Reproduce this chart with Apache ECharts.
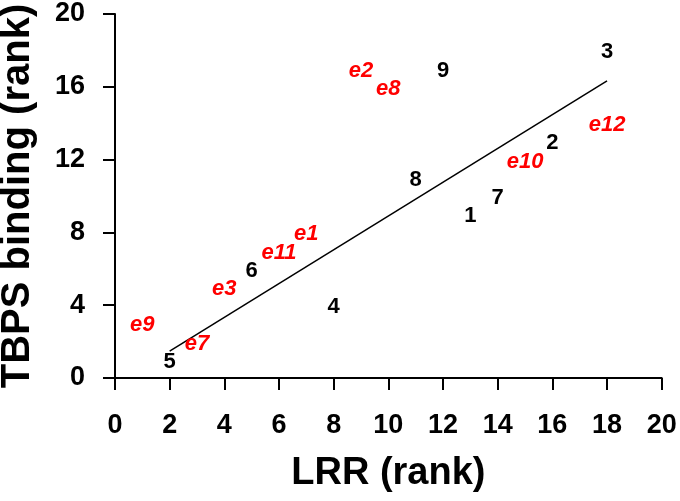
<!DOCTYPE html>
<html>
<head>
<meta charset="utf-8">
<script src="https://cdn.jsdelivr.net/npm/echarts@6/dist/echarts.min.js"></script>
<style>html,body{margin:0;padding:0;background:#fff}#c{width:680px;height:501px}</style>
</head>
<body>
<div id="c"></div>
<script>
var blackNames = ['1','2','3','4','5','6','7','8','9'];
var blackX = [13,16,18,8,2,5,14,11,12];
var blackY = [9,13,18,4,1,6,10,11,17];
var redNames = ['e1','e2','e3','e7','e8','e9','e10','e11','e12'];
var redX = [7,9,4,3,10,1,15,6,18];
var redY = [8,17,5,2,16,3,12,7,14];
var fitX = [2,18];
var fitY = [1.48,16.33];
var xTicks = [0,2,4,6,8,10,12,14,16,18,20];
var yTicks = [0,4,8,12,16,20];

function pts(n, xs, ys){ return n.map(function(v,i){ return {name:v, value:[xs[i], ys[i]]}; }); }

var FONT = '"Liberation Sans", Arial, sans-serif';
var chart = echarts.init(document.getElementById('c'));
chart.setOption({
  animation:false,
  grid:{left:115, right:18.3, top:14, bottom:123, containLabel:false, outerBoundsMode:'none'},
  xAxis:{
    type:'value', min:0, max:20, interval:2,
    name:'LRR (rank)', nameLocation:'middle', nameGap:77,
    nameTextStyle:{fontFamily:FONT, fontWeight:'bold', fontSize:38, color:'#000'},
    axisLine:{lineStyle:{color:'#000', width:2}},
    axisTick:{show:true, inside:false, length:12, lineStyle:{color:'#000', width:2}},
    axisLabel:{fontFamily:FONT, fontWeight:'bold', fontSize:27, color:'#000', margin:34,
      formatter:function(v){ return xTicks.indexOf(v)>=0 ? String(v) : ''; }},
    splitLine:{show:false}
  },
  yAxis:{
    type:'value', min:0, max:20, interval:4,
    name:'TBPS binding (rank)', nameLocation:'middle', nameGap:77,
    nameTextStyle:{fontFamily:FONT, fontWeight:'bold', fontSize:40, color:'#000'},
    axisLine:{show:true, lineStyle:{color:'#000', width:2}},
    axisTick:{show:true, inside:false, length:12, lineStyle:{color:'#000', width:2}},
    axisLabel:{fontFamily:FONT, fontWeight:'bold', fontSize:27, color:'#000', margin:30,
      formatter:function(v){ return yTicks.indexOf(v)>=0 ? String(v) : ''; }},
    splitLine:{show:false}
  },
  series:[
    {type:'line', data:fitX.map(function(x,i){return [x, fitY[i]];}), showSymbol:false, symbol:'none',
     lineStyle:{color:'#000', width:1.5}, z:1},
    {type:'scatter', data:pts(blackNames, blackX, blackY), symbolSize:1, itemStyle:{color:'rgba(0,0,0,0)'},
     label:{show:true, position:'inside', offset:[0,2], formatter:'{b}', fontFamily:FONT, fontWeight:'bold', fontSize:22, color:'#000', opacity:1}, z:3},
    {type:'scatter', data:pts(redNames, redX, redY), symbolSize:1, itemStyle:{color:'rgba(0,0,0,0)'},
     label:{show:true, position:'inside', offset:[0,2], formatter:'{b}', fontFamily:FONT, fontWeight:'bold', fontStyle:'italic', fontSize:22, color:'#ff0000', opacity:1}, z:3}
  ]
});
</script>
</body>
</html>
